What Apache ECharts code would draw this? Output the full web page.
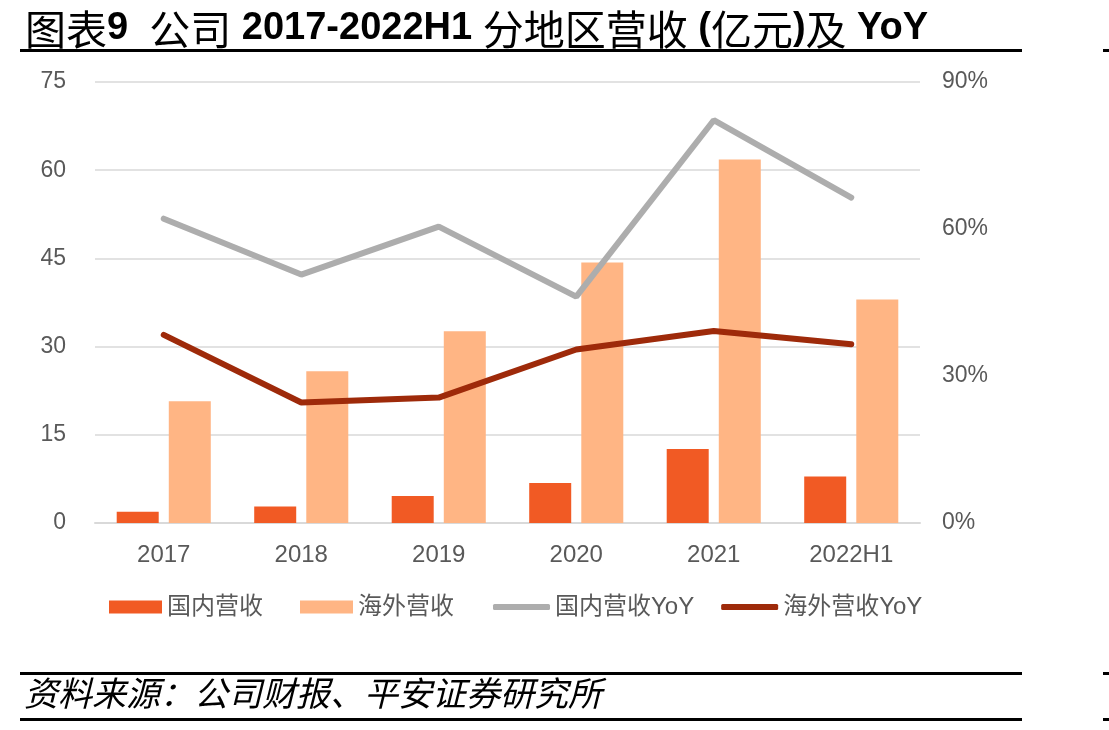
<!DOCTYPE html>
<html>
<head>
<meta charset="utf-8">
<script src="https://cdn.jsdelivr.net/npm/echarts@6/dist/echarts.min.js"></script>
<style>
html,body{margin:0;padding:0;background:#fff;}
#c{width:1109px;height:730px;}
</style>
</head>
<body>
<div id="c"></div>
<script>
const categories = ['2017', '2018', '2019', '2020', '2021', '2022H1'];
const domesticRevenue = [1.9, 2.8, 4.6, 6.8, 12.6, 7.9];
const overseasRevenue = [20.7, 25.8, 32.6, 44.3, 61.8, 38.0];
const domesticYoY = [62.1, 50.7, 60.5, 46.2, 82.2, 66.4];
const overseasYoY = [38.4, 24.6, 25.6, 35.4, 39.2, 36.5];
const seriesNames = ['国内营收', '海外营收', '国内营收YoY', '海外营收YoY'];
const titleText = '图表9  公司 2017-2022H1 分地区营收 (亿元)及 YoY';
const sourceText = '资料来源：公司财报、平安证券研究所';

const FONT = '"Liberation Sans", Arial, "Noto Sans CJK SC", sans-serif';
const CJK = '"Noto Sans CJK SC", "Liberation Sans", sans-serif';
const labelColor = '#595959';
const colors = ['#F15A24', '#FFB584', '#ADADAD', '#9E2A0A'];

// split title into CJK / Latin runs for rich text
function richTitle(s) {
  const runs = [];
  let cur = '', curType = null;
  for (const ch of s) {
    const t = /[\u3000-\u9fff\uff00-\uffef]/.test(ch) ? 'c' : 'l';
    if (t !== curType && cur) { runs.push('{' + curType + '|' + cur + '}'); cur = ''; }
    curType = t; cur += ch;
  }
  if (cur) runs.push('{' + curType + '|' + cur + '}');
  return runs.join('');
}

const chart = echarts.init(document.getElementById('c'), null, {renderer: 'canvas'});
chart.setOption({
  animation: false,
  backgroundColor: '#fff',
  title: {
    text: richTitle(titleText),
    left: 20, top: 0,
    textStyle: {
      rich: {
        c: {fontFamily: CJK, fontSize: 41, fontWeight: 'normal', color: '#000', lineHeight: 48},
        l: {fontFamily: FONT, fontSize: 38, fontWeight: 'bold', color: '#000', lineHeight: 48}
      }
    }
  },
  graphic: [
    {type: 'rect', shape: {x: 20, y: 49, width: 1002, height: 3}, style: {fill: '#000'}},
    {type: 'rect', shape: {x: 1103, y: 49, width: 6, height: 3}, style: {fill: '#000'}},
    {type: 'rect', shape: {x: 20, y: 672, width: 1002, height: 3}, style: {fill: '#000'}},
    {type: 'rect', shape: {x: 1103, y: 672, width: 6, height: 3}, style: {fill: '#000'}},
    {type: 'rect', shape: {x: 20, y: 718, width: 1002, height: 3}, style: {fill: '#000'}},
    {type: 'rect', shape: {x: 1103, y: 718, width: 6, height: 3}, style: {fill: '#000'}},
    {type: 'text', left: 24, top: 676, style: {text: sourceText, font: 'italic 34px "Noto Sans CJK SC", sans-serif', fill: '#000'}}
  ],
  legend: [
    {
      data: [seriesNames[0], seriesNames[1]],
      left: 104, top: 590,
      icon: 'rect',
      itemWidth: 53, itemHeight: 13, itemGap: 37,
      textStyle: {fontFamily: FONT, fontSize: 24, color: labelColor}
    },
    {
      data: [seriesNames[2], seriesNames[3]],
      left: 488, top: 590,
      icon: 'roundRect',
      itemWidth: 57, itemHeight: 6, itemGap: 27,
      itemStyle: {borderWidth: 0},
      textStyle: {fontFamily: FONT, fontSize: 24, color: labelColor}
    }
  ],
  grid: {left: 95, right: 189, top: 82, bottom: 207},
  xAxis: {
    type: 'category',
    data: categories,
    axisLine: {lineStyle: {color: '#D9D9D9', width: 2}},
    axisTick: {show: false},
    axisLabel: {fontFamily: FONT, fontSize: 24, color: labelColor, margin: 20}
  },
  yAxis: [
    {
      type: 'value', min: 0, max: 75, interval: 15,
      axisLine: {show: false}, axisTick: {show: false},
      splitLine: {lineStyle: {color: '#D9D9D9', width: 1.5}},
      axisLabel: {fontFamily: FONT, fontSize: 23, color: labelColor, margin: 29}
    },
    {
      type: 'value', min: 0, max: 90, interval: 30,
      axisLine: {show: false}, axisTick: {show: false},
      splitLine: {show: false},
      axisLabel: {fontFamily: FONT, fontSize: 23, color: labelColor, margin: 22, formatter: '{value}%'}
    }
  ],
  series: [
    {name: seriesNames[0], type: 'bar', data: domesticRevenue, barWidth: 42, barGap: '24%', itemStyle: {color: colors[0]}},
    {name: seriesNames[1], type: 'bar', data: overseasRevenue, barWidth: 42, barGap: '24%', itemStyle: {color: colors[1]}},
    {name: seriesNames[2], type: 'line', yAxisIndex: 1, data: domesticYoY, symbol: 'none',
     lineStyle: {color: colors[2], width: 6, cap: 'round'}, itemStyle: {color: colors[2]}},
    {name: seriesNames[3], type: 'line', yAxisIndex: 1, data: overseasYoY, symbol: 'none',
     lineStyle: {color: colors[3], width: 6, cap: 'round'}, itemStyle: {color: colors[3]}}
  ]
});
</script>
</body>
</html>
